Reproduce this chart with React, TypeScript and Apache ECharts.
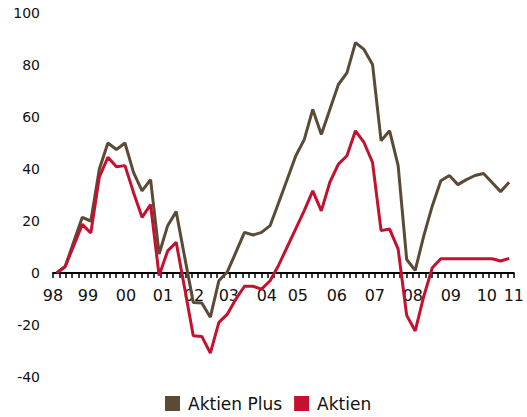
import React, { useEffect, useRef } from 'react';
import * as echarts from 'echarts';

// Quarterly observations, 1998 Q1 onwards (index = quarter number)
const seriesNames = ['Aktien Plus', 'Aktien'];
const aktienPlus = [
  0, 2.5, 12, 21.4, 20, 40, 50, 47.5, 50, 38.7, 31.6, 35.9, 7.3, 18.2, 23.6, 6,
  -11.3, -11.5, -17, -3, 0.5, 8, 15.6, 14.6, 15.6, 18.2, 27, 36, 45, 51.3, 62.9,
  53.3, 62.9, 72.5, 77, 88.6, 86, 80.2, 50.9, 54.7, 41.3, 5.2, 1, 14.3, 25.8,
  35.5, 37.5, 34, 35.9, 37.5, 38.3, 34.8, 31.3, 34.9,
];
const aktien = [
  0, 2.5, 10.5, 18.7, 15.4, 37, 44.5, 40.9, 41.3, 31, 21.4, 26.3, -1, 8.5, 11.8,
  -6, -24.1, -24.4, -30.8, -19, -15.8, -10, -5.1, -5.1, -6.2, -3, 3, 10, 17, 24,
  31.6, 23.9, 34.9, 41.9, 45.1, 54.7, 50.2, 42.5, 16.3, 16.9, 9.2, -16.3, -22.3,
  -9, 2, 5.5, 5.5, 5.5, 5.5, 5.5, 5.5, 5.5, 4.6, 5.6,
];

// x-axis year labels and where they sit (in quarter-index units)
const xLabels = ['98', '99', '00', '01', '02', '03', '04', '05', '06', '07', '08', '09', '10', '11'];
const xLabelPos = [-0.43, 3.66, 8.11, 12.45, 16.08, 20.17, 24.62, 28.25, 32.82, 37.27, 41.72, 46.17, 50.39, 53.55];

const X_MIN = -0.43;
const X_MAX = 53.55;
const TICK_COUNT = 74;
const Y_MIN = -40;
const Y_MAX = 100;

const GRID_TOP = 13;
const GRID_BOTTOM = 40;
const CHART_H = 417;

const BROWN = '#5b4a36';
const RED = '#c3112f';
const FONT = 'DejaVu Sans';

export default function App() {
  const ref = useRef<HTMLDivElement>(null);

  useEffect(() => {
    if (!ref.current) return;
    const chart = echarts.init(ref.current, null, { renderer: 'svg' });
    const tickValues = Array.from(
      { length: TICK_COUNT },
      (_, k) => X_MIN + (k * (X_MAX - X_MIN)) / (TICK_COUNT - 1)
    );
    const toPairs = (arr: number[]) => arr.map((v, i) => [i, v]);
    // move the x axis from the grid bottom up to the zero line
    const gridH = CHART_H - GRID_TOP - GRID_BOTTOM;
    const zeroOffset = -(gridH * (0 - Y_MIN)) / (Y_MAX - Y_MIN);

    chart.setOption({
      animation: false,
      textStyle: { fontFamily: FONT },
      grid: { left: 53, right: 13, top: GRID_TOP, bottom: GRID_BOTTOM },
      legend: {
        left: 165,
        top: 395,
        padding: 0,
        icon: 'rect',
        itemWidth: 15,
        itemHeight: 15,
        itemGap: 12,
        data: seriesNames,
        textStyle: { fontSize: 17, color: '#111', fontFamily: FONT, padding: [0, 0, 0, 3] },
      },
      xAxis: {
        type: 'value',
        min: X_MIN,
        max: X_MAX,
        offset: zeroOffset,
        axisLine: { onZero: false, lineStyle: { color: '#000', width: 2 } },
        axisTick: {
          show: true,
          customValues: tickValues,
          length: 5,
          lineStyle: { color: '#000', width: 1.5 },
        },
        axisLabel: {
          customValues: xLabelPos,
          showMinLabel: true,
          showMaxLabel: true,
          hideOverlap: false,
          fontSize: 16,
          color: '#111',
          margin: 14,
          fontFamily: FONT,
          formatter: (v: number) => {
            let best = 0;
            for (let i = 1; i < xLabelPos.length; i++) {
              if (Math.abs(xLabelPos[i] - v) < Math.abs(xLabelPos[best] - v)) best = i;
            }
            return xLabels[best];
          },
        },
        splitLine: { show: false },
      },
      yAxis: {
        type: 'value',
        min: Y_MIN,
        max: Y_MAX,
        interval: 20,
        axisLine: { show: false },
        axisTick: { show: false },
        splitLine: { show: false },
        axisLabel: { fontSize: 14, color: '#111', margin: 13, fontFamily: FONT },
      },
      series: [
        {
          name: seriesNames[0],
          type: 'line',
          data: toPairs(aktienPlus),
          symbol: 'none',
          color: BROWN,
          lineStyle: { color: BROWN, width: 3 },
        },
        {
          name: seriesNames[1],
          type: 'line',
          data: toPairs(aktien),
          symbol: 'none',
          color: RED,
          lineStyle: { color: RED, width: 3 },
        },
      ],
    });
    return () => chart.dispose();
  }, []);

  return (
    <div
      ref={ref}
      style={{ position: 'absolute', left: 0, top: 0, width: 527, height: 417 }}
    />
  );
}
